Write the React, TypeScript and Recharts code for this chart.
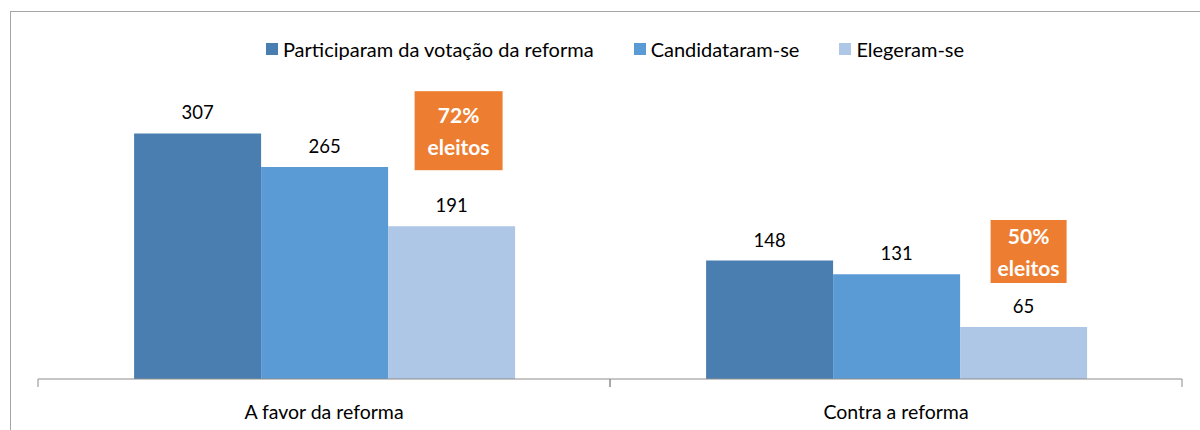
import { Bar, BarChart, LabelList, XAxis, YAxis } from 'recharts';

const categories = ['A favor da reforma', 'Contra a reforma'];
const participated = [307, 148];
const candidates = [265, 131];
const elected = [191, 65];
const electedShare = ['72%', '50%'];

const seriesList = [
  { dataKey: 'participated', label: 'Participaram da votação da reforma', color: '#4A7EB0' },
  { dataKey: 'candidates', label: 'Candidataram-se', color: '#5B9BD5' },
  { dataKey: 'elected', label: 'Elegeram-se', color: '#AEC7E6' },
];

const chartData = categories.map((name, i) => ({
  name,
  participated: participated[i],
  candidates: candidates[i],
  elected: elected[i],
  share: electedShare[i],
}));

const FONT = 'Lato, "Open Sans", sans-serif';
const CHART_W = 1200;
const CHART_H = 430;
const MARGIN = { top: 99, right: 18, bottom: 0, left: 38 };
const BAND = (CHART_W - MARGIN.left - MARGIN.right) / categories.length;

// box sizes for the orange "eleitos" callouts, one per category
const calloutBoxes = [
  { w: 88, h: 79, lift: 56, shift: 7 },
  { w: 76, h: 63, lift: 44, shift: 5 },
];

function CategoryTick(props: any) {
  const { x, y, payload } = props;
  return (
    <g>
      <line x1={x - BAND / 2} x2={x - BAND / 2} y1={y - 8} y2={y} stroke="#8c8c8c" />
      <line x1={x + BAND / 2} x2={x + BAND / 2} y1={y - 8} y2={y} stroke="#8c8c8c" />
      <text x={x} y={y + 32} textAnchor="middle" fontSize={19.5} fill="#000" fontFamily={FONT}>
        {payload.value}
      </text>
    </g>
  );
}

function Callout(props: any) {
  const { x, y, width, index } = props;
  const box = calloutBoxes[index];
  if (!box) return null;
  const cx = x + width / 2 + box.shift;
  const bottom = y - box.lift;
  const top = bottom - box.h;
  const mid = (top + bottom) / 2;
  return (
    <g>
      <rect x={cx - box.w / 2} y={top} width={box.w} height={box.h} fill="#ED7D31" />
      <text x={cx} y={mid - 8} textAnchor="middle" fontSize={21} fontWeight={700} fill="#fff" fontFamily={FONT}>
        {electedShare[index]}
      </text>
      <text x={cx} y={mid + 24} textAnchor="middle" fontSize={21} fontWeight={700} fill="#fff" fontFamily={FONT}>
        eleitos
      </text>
    </g>
  );
}

export default function App() {
  return (
    <div style={{ position: 'absolute', left: 0, top: 0, width: CHART_W, height: CHART_H, overflow: 'hidden', background: '#fff' }}>
      <div
        style={{
          position: 'absolute',
          left: 10,
          top: 11,
          width: 1300,
          height: 500,
          border: '1px solid #a6a6a6',
        }}
      />
      <div
        style={{
          position: 'absolute',
          top: 37,
          left: 15,
          width: CHART_W,
          display: 'flex',
          justifyContent: 'center',
          gap: 40,
          fontFamily: FONT,
          fontSize: 20,
          color: '#000',
        }}
      >
        {seriesList.map((s) => (
          <div key={s.dataKey} style={{ display: 'flex', alignItems: 'center', gap: 5 }}>
            <span style={{ width: 12, height: 12, background: s.color, display: 'inline-block' }} />
            <span>{s.label}</span>
          </div>
        ))}
      </div>
      <div style={{ position: 'absolute', left: 0, top: 0 }}>
        <BarChart width={CHART_W} height={CHART_H} data={chartData} margin={MARGIN} barGap={0} barCategoryGap="16.8%">
          <XAxis
            dataKey="name"
            height={51}
            axisLine={{ stroke: '#8c8c8c' }}
            tickLine={false}
            tick={<CategoryTick />}
            interval={0}
          />
          <YAxis hide domain={[0, 350]} />
          {seriesList.map((s) => (
            <Bar key={s.dataKey} dataKey={s.dataKey} fill={s.color} isAnimationActive={false}>
              <LabelList
                dataKey={s.dataKey}
                position="top"
                offset={14}
                fontSize={18.5}
                fill="#000"
                fontFamily={FONT}
              />
              {s.dataKey === 'elected' && <LabelList dataKey="share" content={<Callout />} />}
            </Bar>
          ))}
        </BarChart>
      </div>
    </div>
  );
}
